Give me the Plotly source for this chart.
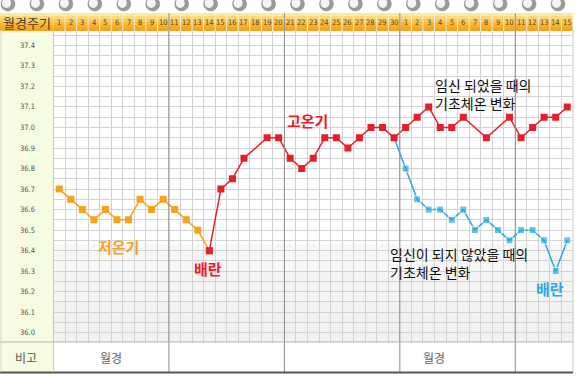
import plotly.graph_objects as go

W, H = 580, 377
# ---- data ----
day_labels = [str(d) for d in range(1, 31)] + [str(d) for d in range(1, 16)]
y_labels = ["37.4", "37.3", "37.2", "37.1", "37.0", "36.9", "36.8", "36.7",
            "36.6", "36.5", "36.4", "36.3", "36.2", "36.1", "36.0"]
low_x = list(range(1, 15))
low_vals = [36.70, 36.65, 36.60, 36.55, 36.60, 36.55, 36.55, 36.65, 36.60,
            36.65, 36.60, 36.55, 36.50, 36.40]
high_x = list(range(14, 46))
high_vals = [36.40, 36.70, 36.75, 36.85, None, 36.95, 36.95, 36.85, 36.80,
             36.85, 36.95, 36.95, 36.90, 36.95, 37.00, 37.00, 36.95, 37.00,
             37.05, 37.10, 37.00, 37.00, 37.05, None, 36.95, None, 37.05,
             36.95, 37.00, 37.05, 37.05, 37.10]
nopreg_x = list(range(30, 46))
nopreg_vals = [36.95, 36.80, 36.65, 36.60, 36.60, 36.55, 36.60, 36.50, 36.55,
               36.50, 36.45, 36.50, 36.50, 36.45, 36.30, 36.45]
remark_labels = ["월경", "월경"]
remark_x = [5.5, 33.5]

ORANGE = "#f5a21e"
RED = "#e5202a"
BLUE = "#2aa9dd"
KR = "Noto Sans CJK KR"

PL, PR, PT, PB = 53.5, 573.0, 30.0, 342.0
YMIN, YMAX = 35.955, 37.475


def px(x):
    return x / W


def py(y):
    return 1 - y / H


fig = go.Figure()

fig.add_trace(go.Scatter(
    x=nopreg_x, y=nopreg_vals, mode="lines+markers",
    line=dict(color=BLUE, width=1.5),
    marker=dict(symbol="square", size=[0] + [7] * (len(nopreg_x) - 1), color=BLUE),
    showlegend=False, hoverinfo="skip"))
fig.add_trace(go.Scatter(
    x=low_x, y=low_vals, mode="lines+markers",
    line=dict(color=ORANGE, width=1.5),
    marker=dict(symbol="square", size=7, color=ORANGE),
    showlegend=False, hoverinfo="skip"))
fig.add_trace(go.Scatter(
    x=high_x, y=high_vals, mode="lines+markers", connectgaps=True,
    line=dict(color=RED, width=1.5),
    marker=dict(symbol="square", size=7, color=RED),
    showlegend=False, hoverinfo="skip"))

shapes = []
# lower gray zone (subtle gradient)
for y1, c in [(36.43, "#f7f7f7"), (36.3, "#f4f4f4"), (36.15, "#f1f1f1")]:
    shapes.append(dict(type="rect", xref="x", yref="y", x0=0.5, x1=45.5, y0=YMIN, y1=y1,
                       fillcolor=c, line=dict(width=0), layer="below"))
# left panel
shapes.append(dict(type="rect", xref="paper", yref="paper", x0=0, x1=px(PL), y0=py(PB), y1=py(PT),
                   fillcolor="#f6fce2", line=dict(width=0), layer="below"))
shapes.append(dict(type="rect", xref="paper", yref="paper", x0=0, x1=px(PL), y0=py(372), y1=py(PB),
                   fillcolor="#f6fce2", line=dict(width=0), layer="below"))
# header gradient
hcols = ["#fde7a6", "#fcd97f", "#fbcb5c", "#f8bb3d", "#f6ad28", "#f4a41e"]
h0, h1 = 13.0, 31.0
step = (h1 - h0) / len(hcols)
for i, c in enumerate(hcols):
    shapes.append(dict(type="rect", xref="paper", yref="paper", x0=0, x1=px(PR),
                       y0=py(h0 + (i + 1) * step), y1=py(h0 + i * step),
                       fillcolor=c, line=dict(width=0), layer="below"))
# header column separators
for i in range(46):
    xv = 0.5 + i
    shapes.append(dict(type="line", xref="x", yref="paper", x0=xv, x1=xv, y0=py(31), y1=py(15),
                       line=dict(color="#f7ecd0", width=1)))
# thick separators every 10 days
for xv in [10.5, 20.5, 30.5, 40.5]:
    shapes.append(dict(type="line", xref="x", yref="paper", x0=xv, x1=xv, y0=py(372), y1=py(13),
                       line=dict(color="#8c8c8c", width=1)))
# bottom row borders
shapes.append(dict(type="line", xref="paper", yref="paper", x0=0, x1=px(PR), y0=py(PB), y1=py(PB),
                   line=dict(color="#b5b5b5", width=1)))
shapes.append(dict(type="line", xref="paper", yref="paper", x0=0, x1=px(PR), y0=py(372.5), y1=py(372.5),
                   line=dict(color="#555555", width=2)))
shapes.append(dict(type="line", xref="paper", yref="paper", x0=px(PL), x1=px(PL), y0=py(372), y1=py(PT),
                   line=dict(color="#c8c8c8", width=1)))
shapes.append(dict(type="line", xref="paper", yref="paper", x0=px(PR), x1=px(PR), y0=py(372), y1=py(PT),
                   line=dict(color="#c8c8c8", width=1)))
shapes.append(dict(type="line", xref="paper", yref="paper", x0=px(1), x1=px(1), y0=py(372), y1=py(PT),
                   line=dict(color="#d8d8d8", width=1)))
# binder rings
for k in range(20):
    cx = 8 + 28.95 * k
    shapes.append(dict(type="circle", xref="paper", yref="paper",
                       x0=px(cx - 7), x1=px(cx + 7), y0=py(11), y1=py(-3),
                       fillcolor="#9a9a9a", line=dict(color="#8a8a8a", width=0.5)))
    shapes.append(dict(type="circle", xref="paper", yref="paper",
                       x0=px(cx - 6), x1=px(cx + 3), y0=py(8), y1=py(-2),
                       fillcolor="#f4f4f4", line=dict(width=0)))

ann = []
for i, lab in enumerate(day_labels):
    ann.append(dict(x=i + 1, y=py(22.5), xref="x", yref="paper", text=lab, showarrow=False,
                    font=dict(family="DejaVu Sans Condensed, DejaVu Sans", size=7.5, color="#5a4a2a"),
                    xanchor="center", yanchor="middle"))
ann.append(dict(x=px(26.5), y=py(22.5), xref="paper", yref="paper", text="월경주기", showarrow=False,
                font=dict(family=KR, size=13, color="#4a4030"), xanchor="center", yanchor="middle"))
for lab in y_labels:
    ann.append(dict(x=px(27), y=float(lab), xref="paper", yref="y", text=lab, showarrow=False,
                    font=dict(family="DejaVu Sans Condensed, DejaVu Sans", size=7.5, color="#555555"),
                    xanchor="center", yanchor="middle"))
ann.append(dict(x=px(26), y=py(357), xref="paper", yref="paper", text="비고", showarrow=False,
                font=dict(family=KR, size=12, color="#555555"), xanchor="center", yanchor="middle"))
for lab, xv in zip(remark_labels, remark_x):
    ann.append(dict(x=xv, y=py(357), xref="x", yref="paper", text=lab, showarrow=False,
                    font=dict(family=KR, size=12, color="#666666"), xanchor="center", yanchor="middle"))

ann.append(dict(x=px(118), y=py(246), xref="paper", yref="paper", text="<b>저온기</b>", showarrow=False,
                font=dict(family=KR, size=15, color=ORANGE), xanchor="center", yanchor="middle"))
ann.append(dict(x=px(208), y=py(268), xref="paper", yref="paper", text="<b>배란</b>", showarrow=False,
                font=dict(family=KR, size=15, color=RED), xanchor="center", yanchor="middle"))
ann.append(dict(x=px(307), y=py(120), xref="paper", yref="paper", text="<b>고온기</b>", showarrow=False,
                font=dict(family=KR, size=15, color=RED), xanchor="center", yanchor="middle"))
ann.append(dict(x=px(550), y=py(288), xref="paper", yref="paper", text="<b>배란</b>", showarrow=False,
                font=dict(family=KR, size=15, color=BLUE), xanchor="center", yanchor="middle"))
ann.append(dict(x=px(433), y=py(94), xref="paper", yref="paper",
                text="임신 되었을 때의<br>기초체온 변화", showarrow=False, align="left",
                font=dict(family=KR, size=14, color="#111111"), xanchor="left", yanchor="middle"))
ann.append(dict(x=px(388), y=py(263), xref="paper", yref="paper",
                text="임신이 되지 않았을 때의<br>기초체온 변화", showarrow=False, align="left",
                font=dict(family=KR, size=14, color="#111111"), xanchor="left", yanchor="middle"))

grid_y = [round(36.0 + 0.05 * k - 0.05, 3) for k in range(0, 31)]
fig.update_layout(
    width=W, height=H, margin=dict(l=0, r=0, t=0, b=0),
    paper_bgcolor="white", plot_bgcolor="white",
    shapes=shapes, annotations=ann, showlegend=False,
    xaxis=dict(domain=[px(PL), px(PR)], range=[0.5, 45.5], tickvals=[0.5 + i for i in range(46)],
               showticklabels=False, showgrid=True, gridcolor="#d3d3d3", gridwidth=1,
               zeroline=False, showline=False, ticks="", fixedrange=True),
    yaxis=dict(domain=[py(PB), py(PT)], range=[YMIN, YMAX], tickvals=grid_y,
               showticklabels=False, showgrid=True, gridcolor="#d3d3d3", gridwidth=1,
               zeroline=False, showline=False, ticks="", fixedrange=True),
)
fig.write_html("out.html")
